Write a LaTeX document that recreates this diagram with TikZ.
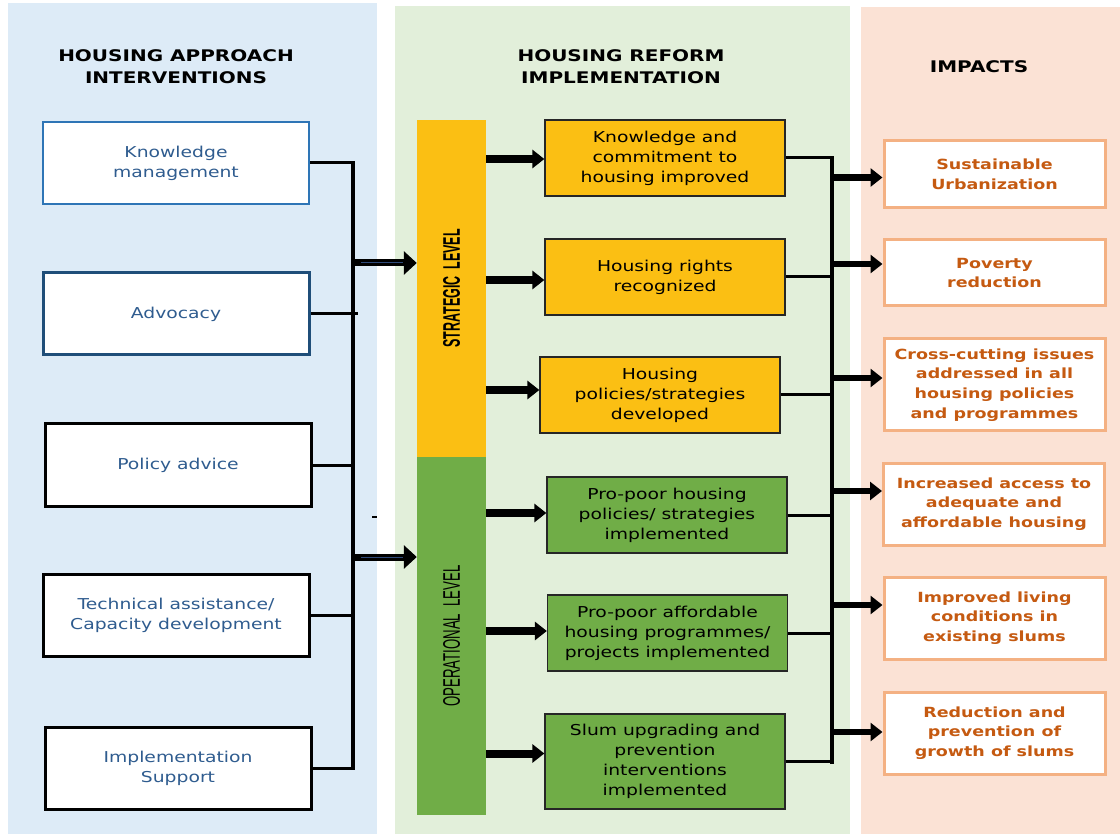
\documentclass[tikz,border=0pt]{standalone}
\usepackage{fontspec}
\usepackage{graphicx}
\setmainfont{DejaVu Sans}[FakeStretch=1.25]
\newfontfamily\barfont{Liberation Sans}
\usetikzlibrary{arrows.meta,calc}
\definecolor{panelblue}{HTML}{DDEBF7}
\definecolor{panelgreen}{HTML}{E2EFDA}
\definecolor{panelpeach}{HTML}{FBE2D5}
\definecolor{stratyellow}{HTML}{FBBF13}
\definecolor{opgreen}{HTML}{70AD47}
\definecolor{kmblue}{HTML}{2E75B6}
\definecolor{advblue}{HTML}{1F4E79}
\definecolor{lefttext}{HTML}{2F5C8F}
\definecolor{impborder}{HTML}{F4B183}
\definecolor{imptext}{HTML}{C55A11}
\definecolor{linkblue}{HTML}{2F4A7A}
\tikzset{
  title/.style={font=\fontsize{16}{22}\selectfont\bfseries, align=center},
  inbox/.style={draw=black, line width=3pt, fill=white, minimum width=266pt, minimum height=82pt, align=center, text=lefttext, font=\fontsize{15}{20}\selectfont},
  outbox/.style={draw=black!85, line width=1.3pt, minimum width=240pt, minimum height=76pt, align=center, font=\fontsize{15}{20}\selectfont},
  impact/.style={draw=impborder, line width=3pt, fill=white, minimum width=221pt, minimum height=82pt, align=center, text=imptext, font=\fontsize{14}{19.7}\selectfont\bfseries},
  levelbar/.style={minimum width=69pt, inner sep=0pt},
  bus/.style={line width=3pt},
  spine/.style={line width=4.5pt, line cap=rect},
  push/.style={line width=8pt, -{Triangle[length=12pt,width=18pt]}},
  bigpush/.style={line width=7pt, -{Triangle[length=13pt,width=23pt]}}
}

\begin{document}
\begin{tikzpicture}[x=1pt,y=-1pt]
  \useasboundingbox (0,0) rectangle (1120,834);
  % columns
  \fill[panelblue] (8,3) rectangle (377,834);
  \fill[panelgreen] (395,6) rectangle (850,834);
  \fill[panelpeach] (861,7) rectangle (1120,834);

  \node[title] (tin) at (176,67) {HOUSING APPROACH\\INTERVENTIONS};
  \node[title] (tref) at (621,67) {HOUSING REFORM\\IMPLEMENTATION};
  \node[title] (timp) at (979,67) {IMPACTS};

  % interventions
  \node[inbox, draw=kmblue, line width=2.5pt] (km) at (176,163) {Knowledge\\management};
  \node[inbox, draw=advblue] (adv) at (176,314) {Advocacy};
  \node[inbox] (pol) at (178,465) {Policy advice};
  \node[inbox] (tech) at (176,615) {Technical assistance/\\Capacity development};
  \node[inbox] (impl) at (178,768) {Implementation\\Support};

  % levels
  \node[levelbar, fill=stratyellow, minimum height=337pt] (strat) at (451.5,288.5)
    {\rotatebox{90}{\barfont\fontsize{24}{24}\selectfont\bfseries\scalebox{0.52}[1]{STRATEGIC\ \ LEVEL}}};
  \node[levelbar, fill=opgreen, minimum height=358pt] (oper) at (451.5,636)
    {\rotatebox{90}{\barfont\fontsize{24}{24}\selectfont\scalebox{0.55}[1]{OPERATIONAL\ \ LEVEL}}};

  % reform outputs
  \node[outbox, fill=stratyellow] (m1) at (665,158) {Knowledge and\\commitment to\\housing improved};
  \node[outbox, fill=stratyellow] (m2) at (665,277) {Housing rights\\recognized};
  \node[outbox, fill=stratyellow] (m3) at (660,395) {Housing\\policies/strategies\\developed};
  \node[outbox, fill=opgreen] (m4) at (667,515) {Pro-poor housing\\policies/ strategies\\implemented};
  \node[outbox, fill=opgreen] (m5) at (667.5,633) {Pro-poor affordable\\housing programmes/\\projects implemented};
  \node[outbox, fill=opgreen, minimum height=95pt] (m6) at (665,761.5) {Slum upgrading and\\prevention\\interventions\\implemented};

  % impacts
  \node[impact, minimum height=67pt] (i1) at (994.5,174.5) {Sustainable\\Urbanization};
  \node[impact, minimum height=66pt] (i2) at (994.5,273) {Poverty\\reduction};
  \node[impact, minimum height=92pt] (i3) at (994.5,385) {Cross-cutting issues\\addressed in all\\housing policies\\and programmes};
  \node[impact] (i4) at (994,504) {Increased access to\\adequate and\\affordable housing};
  \node[impact] (i5) at (994.5,618) {Improved living\\conditions in\\existing slums};
  \node[impact] (i6) at (994.5,733) {Reduction and\\prevention of\\growth of slums};

  % left bus
  \coordinate (lbus) at (353,0);
  \foreach \b in {km,pol,tech,impl}
    \draw[bus] (\b.east) -- (\b.east -| lbus);
  \draw[bus] (adv.east) -- ($(adv.east -| lbus)+(5,0)$);
  \draw[spine] (km.east -| lbus) -- (impl.east -| lbus);
  \coordinate (s1) at (353,263);
  \coordinate (s2) at (353,557);
  \draw[bigpush] (s1) -- (s1 -| strat.west);
  \draw[linkblue, line width=1pt] ($(s1)+(8,0)$) -- ($(s1 -| strat.west)+(-14,0)$);
  \draw[bigpush] (s2) -- (s2 -| oper.west);
  \draw[linkblue, line width=1pt] ($(s2)+(8,0)$) -- ($(s2 -| oper.west)+(-14,0)$);
  \draw[line width=2.5pt] (372,517) -- (377,517);

  % level arrows
  \foreach \m/\dy in {m1/1,m2/3,m3/-5}
    \draw[push] ([yshift=-\dy pt]\m.west -| strat.east) -- ([yshift=-\dy pt]\m.west);
  \foreach \m/\dy in {m4/-2,m5/-2,m6/-8}
    \draw[push] ([yshift=-\dy pt]\m.west -| oper.east) -- ([yshift=-\dy pt]\m.west);

  % right bus
  \coordinate (rbus) at (832,0);
  \foreach \m in {m1,m2,m3,m4,m5,m6}
    \draw[bus] (\m.east) -- (\m.east -| rbus);
  \draw[spine] (m1.east -| rbus) -- (m6.east -| rbus);
  \foreach \i/\dy in {i1/3,i2/-9,i3/-7,i4/-13,i5/-13,i6/-1}
    \draw[push, line width=6.5pt] ([yshift=-\dy pt]\i.west -| rbus) -- ([yshift=-\dy pt]\i.west);
\end{tikzpicture}
\end{document}
